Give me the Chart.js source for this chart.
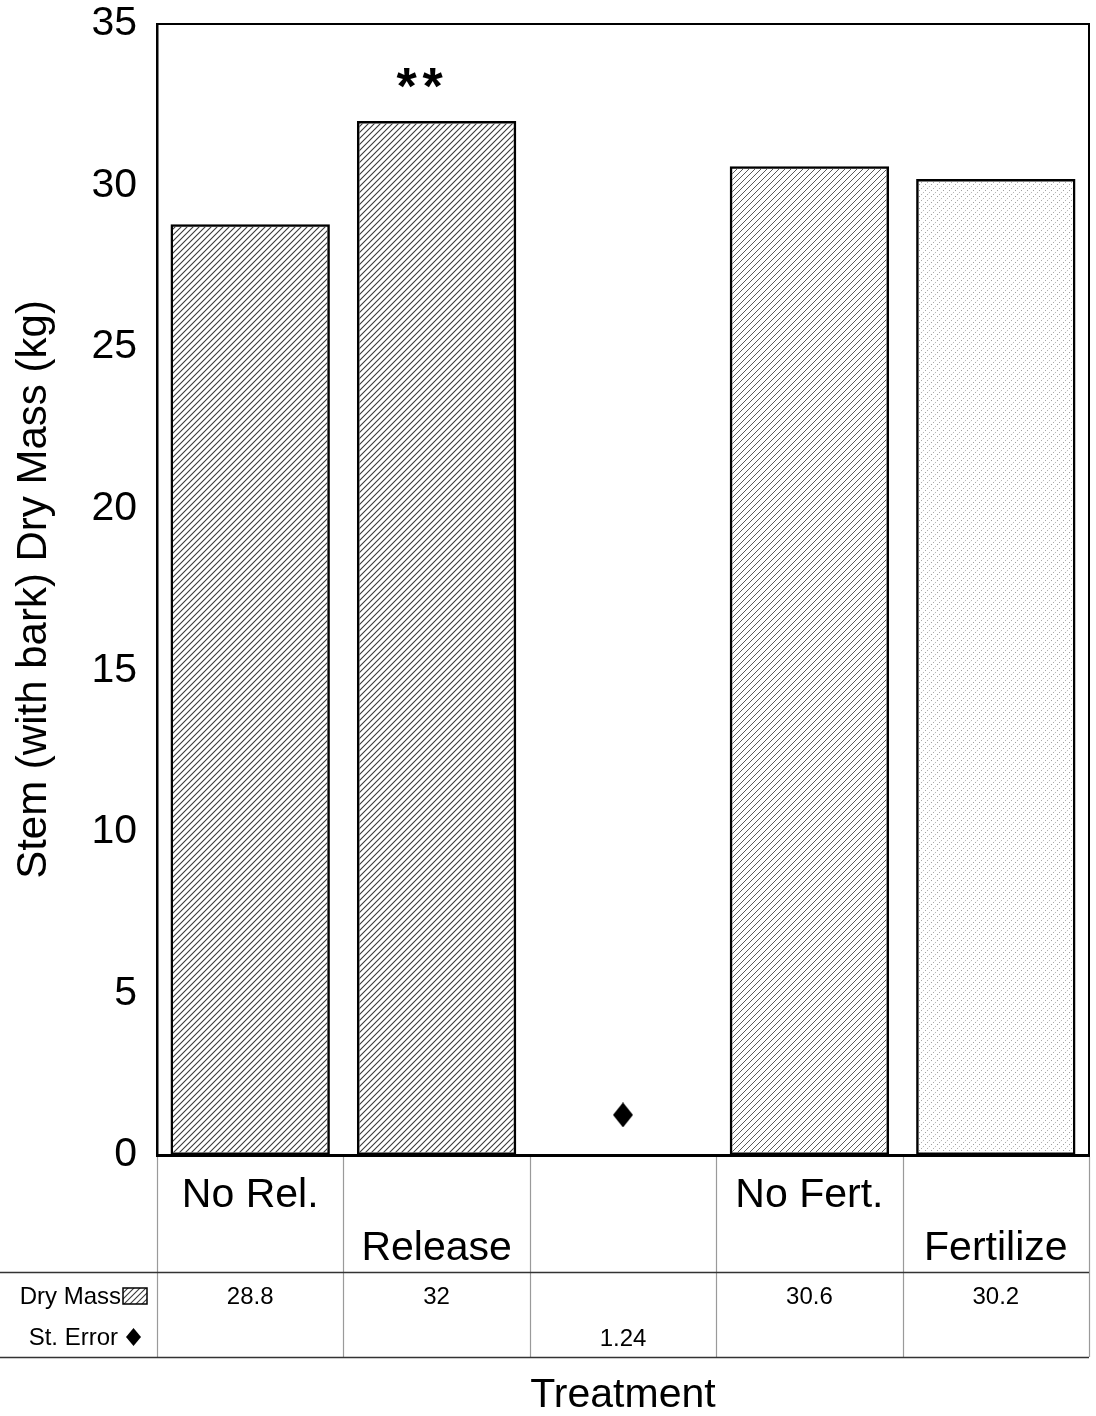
<!DOCTYPE html>
<html>
<head>
<meta charset="utf-8">
<script src="https://cdn.jsdelivr.net/npm/chart.js@4"></script>
<style>
  html, body { margin: 0; padding: 0; background: #fff; }
  #wrap { width: 1096px; height: 1416px; }
</style>
</head>
<body>
<div id="wrap"><canvas id="c" width="1096" height="1416"></canvas></div>
<script>
// Treatments along the x axis (the middle slot holds only the standard error)
const categories = ['No Rel.', 'Release', '', 'No Fert.', 'Fertilize'];
// Label line in the table header: 0 = upper, 1 = lower
const labelTier = [0, 1, 0, 0, 1];
// Stem (with bark) dry mass, kg
const dryMass = [28.8, 32, null, 30.6, 30.2];
// Pooled standard error
const stError = [null, null, 1.24, null, null];
// Value labels printed in the data table
const dryMassLabels = ['28.8', '32', '', '30.6', '30.2'];
const stErrorLabels = ['', '', '1.24', '', ''];
// Significance marks above bars (number of asterisks)
const sigMarks = [0, 2, 0, 0, 0];
const yTicks = [0, 5, 10, 15, 20, 25, 30, 35];

const FONT = '"Liberation Sans", Arial, Helvetica, sans-serif';
const canvas = document.getElementById('c');
const ctx = canvas.getContext('2d');

function hatch(color, gap, lw, dash) {
  const t = document.createElement('canvas');
  t.width = gap; t.height = gap;
  const g = t.getContext('2d');
  g.strokeStyle = color;
  g.lineWidth = lw;
  if (dash) g.setLineDash(dash);
  g.beginPath();
  g.moveTo(-1, gap + 1); g.lineTo(gap + 1, -1);
  g.moveTo(-2, 2); g.lineTo(2, -2);
  g.moveTo(gap - 2, gap + 2); g.lineTo(gap + 2, gap - 2);
  g.stroke();
  return ctx.createPattern(t, 'repeat');
}

const patDense = hatch('#3a3a3a', 6, 1.1);
const patMid = hatch('#5a5a5a', 6, 1.0);
const patLight = hatch('#8f8f8f', 6, 1.0, [1.2, 1.8]);
const barFills = [patDense, patDense, patDense, patMid, patLight];

function diamond(w, h) {
  const d = document.createElement('canvas');
  d.width = w; d.height = h;
  const g = d.getContext('2d');
  g.fillStyle = '#000';
  g.beginPath();
  g.moveTo(w / 2, 0); g.lineTo(w, h / 2); g.lineTo(w / 2, h); g.lineTo(0, h / 2);
  g.closePath(); g.fill();
  return d;
}
const diamondMark = diamond(20, 25);
const diamondKey = diamond(15, 18);

// Frame, data table under the plot, significance marks and the x title
const tablePlugin = {
  id: 'treatmentTable',
  afterDraw(chart) {
    const { ctx, chartArea: a, scales } = chart;
    const xs = scales.x, ys = scales.y;
    const n = categories.length;
    const step = (a.right - a.left) / n;
    const rowTop = a.bottom;
    const rowMid = a.bottom + 117;
    const rowBot = a.bottom + 202;
    ctx.save();

    // plot frame
    ctx.strokeStyle = '#000';
    ctx.lineWidth = 2;
    ctx.beginPath();
    ctx.moveTo(a.left, a.top); ctx.lineTo(a.right, a.top); ctx.lineTo(a.right, a.bottom);
    ctx.stroke();
    ctx.lineWidth = 3;
    ctx.beginPath();
    ctx.moveTo(a.left - 1, a.bottom + 0.5); ctx.lineTo(a.right + 1, a.bottom + 0.5);
    ctx.stroke();

    // table grid
    ctx.strokeStyle = '#9a9a9a';
    ctx.lineWidth = 1.2;
    for (let i = 0; i <= n; i++) {
      const x = Math.round(a.left + i * step) + 0.5;
      ctx.beginPath(); ctx.moveTo(x, rowTop + 2); ctx.lineTo(x, rowBot); ctx.stroke();
    }
    ctx.strokeStyle = '#333';
    ctx.lineWidth = 1.3;
    ctx.beginPath(); ctx.moveTo(0, rowMid + 0.5); ctx.lineTo(a.right, rowMid + 0.5); ctx.stroke();
    ctx.beginPath(); ctx.moveTo(0, rowBot + 0.5); ctx.lineTo(a.right, rowBot + 0.5); ctx.stroke();

    // category labels, staggered on two lines
    ctx.fillStyle = '#000';
    ctx.textAlign = 'center';
    ctx.textBaseline = 'alphabetic';
    ctx.font = '41px ' + FONT;
    categories.forEach((c, i) => {
      const x = xs.getPixelForValue(i);
      ctx.fillText(c, x, labelTier[i] === 0 ? rowTop + 52 : rowTop + 105);
    });

    // value rows
    ctx.font = '24px ' + FONT;
    dryMassLabels.forEach((t, i) => ctx.fillText(t, xs.getPixelForValue(i), rowMid + 32));
    stErrorLabels.forEach((t, i) => ctx.fillText(t, xs.getPixelForValue(i), rowMid + 74));

    // row keys
    ctx.textAlign = 'right';
    ctx.fillText('Dry Mass', 121, rowMid + 32);
    ctx.fillText('St. Error', 118, rowMid + 73);
    ctx.fillStyle = patDense;
    ctx.fillRect(123, rowMid + 16, 24, 16);
    ctx.strokeStyle = '#000';
    ctx.lineWidth = 1.5;
    ctx.strokeRect(123, rowMid + 16, 24, 16);
    ctx.drawImage(diamondKey, 126, rowMid + 56);

    // significance marks
    ctx.fillStyle = '#000';
    ctx.textAlign = 'center';
    ctx.font = 'bold 52px ' + FONT;
    sigMarks.forEach((m, i) => {
      if (!m) return;
      const x = xs.getPixelForValue(i) - 17;
      const y = ys.getPixelForValue(dryMass[i]) - 17;
      for (let k = 0; k < m; k++) {
        ctx.fillText('*', x + (k - (m - 1) / 2) * 26, y);
      }
    });

    // x axis title
    ctx.font = '41px ' + FONT;
    ctx.fillText('Treatment', (a.left + a.right) / 2, rowBot + 50);
    ctx.restore();
  }
};

new Chart(ctx, {
  data: {
    labels: categories,
    datasets: [
      {
        type: 'bar',
        label: 'Dry Mass',
        data: dryMass,
        backgroundColor: barFills,
        borderColor: '#000',
        borderWidth: 2.5,
        borderSkipped: false,
        categoryPercentage: 0.855,
        barPercentage: 1.0,
        order: 2
      },
      {
        type: 'line',
        label: 'St. Error',
        data: stError,
        showLine: false,
        pointStyle: diamondMark,
        pointRadius: 10,
        pointHoverRadius: 10,
        order: 1
      }
    ]
  },
  plugins: [tablePlugin],
  options: {
    responsive: false,
    animation: false,
    events: [],
    layout: { autoPadding: false, padding: { left: 0, right: 7, top: 24, bottom: 261 } },
    plugins: { legend: { display: false }, tooltip: { enabled: false } },
    scales: {
      x: { display: false, offset: true },
      y: {
        min: 0,
        max: 35,
        afterBuildTicks(scale) { scale.ticks = yTicks.map(v => ({ value: v })); },
        afterFit(scale) {
          scale.width = 157;
          scale.paddingTop = 0;
          scale.paddingBottom = 0;
        },
        ticks: {
          color: '#000',
          padding: 20,
          font: { family: FONT, size: 41 }
        },
        grid: { display: false, drawTicks: false },
        border: { display: true, color: '#000', width: 2.5 },
        title: {
          display: true,
          text: 'Stem (with bark) Dry Mass (kg)',
          color: '#000',
          font: { family: FONT, size: 42 },
          padding: { top: 9, bottom: 0 }
        }
      }
    }
  }
});
</script>
</body>
</html>
